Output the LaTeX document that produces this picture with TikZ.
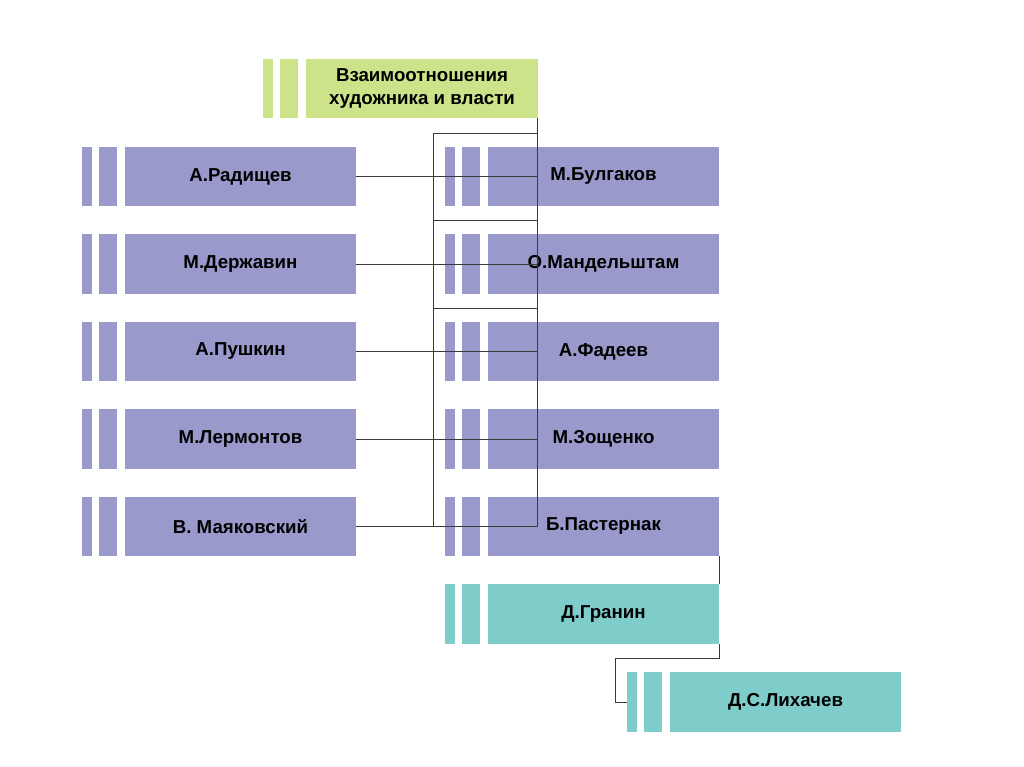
\documentclass[tikz,border=0pt]{standalone}
\usepackage{fontspec}
\setmainfont{Liberation Sans}
\usetikzlibrary{calc}
\definecolor{lilac}{HTML}{9999CC}
\definecolor{lime}{HTML}{CCE38A}
\definecolor{teal}{HTML}{7FCDCB}
\definecolor{wire}{HTML}{3A3A3A}
\tikzset{
  card/.style={fill=#1,minimum width=5.775cm,minimum height=1.475cm,inner sep=0pt,
    align=center,font=\fontsize{13.3}{16.5}\selectfont\bfseries},
  card/.default=lilac,
  link/.style={wire,line width=0.7pt}
}
\newcommand\bars[2]{%
  \fill[#2] ($(#1.north west)+(-43,0)$) rectangle ($(#1.south west)+(-33,0)$);
  \fill[#2] ($(#1.north west)+(-26,0)$) rectangle ($(#1.south west)+(-8,0)$);}

\begin{document}
\begin{tikzpicture}[x=0.025cm,y=-0.025cm]
  \useasboundingbox (0,0) rectangle (1024,767);
  \node[card=lime] (title) at (422,88.5) {Взаимоотношения\\художника и власти};
  \node[card] (radishchev) at (240.5,176.5) {А.Радищев};
  \node[card] (derzhavin) at (240.5,264) {М.Державин};
  \node[card] (pushkin) at (240.5,351.5) {А.Пушкин};
  \node[card] (lermontov) at (240.5,439) {М.Лермонтов};
  \node[card] (mayakovsky) at (240.5,526.5) {В. Маяковский};
  \node[card] (bulgakov) at (603.5,176.5) {М.Булгаков};
  \node[card] (mandelstam) at (603.5,264) {О.Мандельштам};
  \node[card] (fadeev) at (603.5,351.5) {А.Фадеев};
  \node[card] (zoshchenko) at (603.5,439) {М.Зощенко};
  \node[card] (pasternak) at (603.5,526.5) {Б.Пастернак};
  \node[card=teal] (granin) at (603.5,614) {Д.Гранин};
  \node[card=teal] (likhachev) at (785.5,702) {Д.С.Лихачев};
  \bars{title}{lime}
  \foreach \n in {radishchev,derzhavin,pushkin,lermontov,mayakovsky,
    bulgakov,mandelstam,fadeev,zoshchenko,pasternak}
    {\bars{\n}{lilac}}
  \bars{granin}{teal}
  \bars{likhachev}{teal}

  \coordinate (spine) at (537,133);
  \coordinate (rail) at (433,133);
  \coordinate (knee) at (615,658);
  \draw[link] (spine |- title.south) -- (spine |- pasternak) -- (rail |- pasternak)
    -- (rail) -- (spine);
  \draw[link] (rail |- 0,220) -- (spine |- 0,220);
  \draw[link] (rail |- 0,308) -- (spine |- 0,308);
  \foreach \n in {radishchev,derzhavin,pushkin,lermontov,mayakovsky}
    {\draw[link] (\n.east) -- (\n.east -| spine);}
  \draw[link] (pasternak.south east) -- (granin.north east);
  \draw[link] (granin.south east) |- (knee) |- ($(likhachev.west)+(-43,0)$);
\end{tikzpicture}
\end{document}
